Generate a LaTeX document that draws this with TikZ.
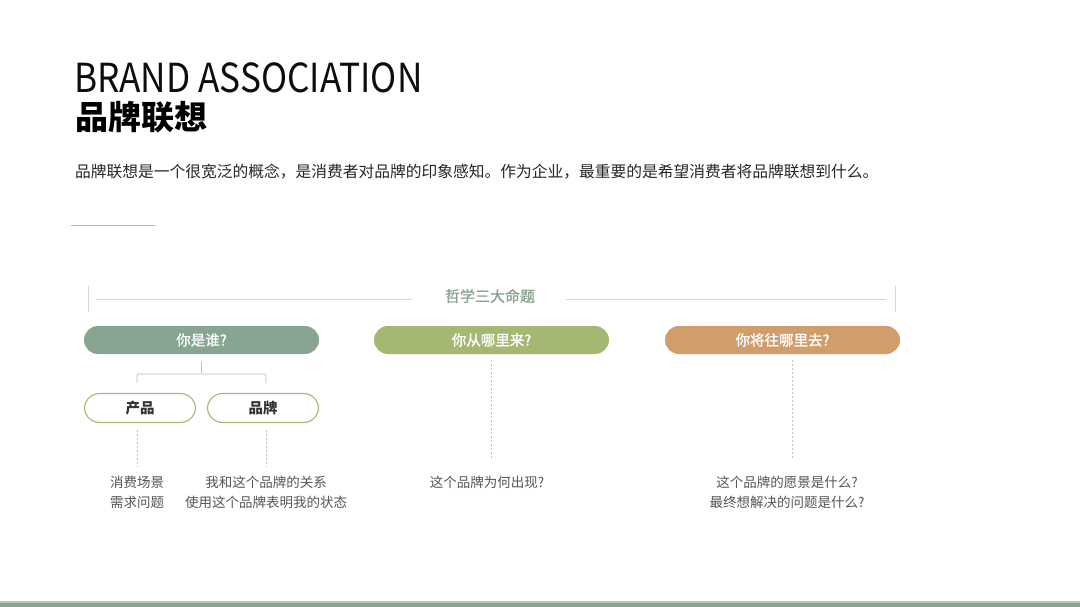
\documentclass[tikz,border=0pt]{standalone}
\usepackage{fontspec}
\setmainfont{Noto Sans CJK SC}
\newfontfamily\medfont[FakeBold=1.2]{Noto Sans CJK SC}
\definecolor{cA}{HTML}{87A591}
\definecolor{cB}{HTML}{A5B872}
\definecolor{cC}{HTML}{D09E6B}
\definecolor{hdr}{HTML}{8AA393}
\definecolor{txt}{HTML}{555555}
\definecolor{rule}{HTML}{D5D5D5}
\tikzset{
  pill/.style={rectangle, rounded corners=14pt, minimum width=235pt, minimum height=28pt, inner sep=0pt, text=white, font=\fontsize{14.5}{14.5}\medfont},
  subpill/.style={rectangle, rounded corners=15pt, draw=cB, line width=1.1pt, fill=white, minimum width=111pt, minimum height=29pt, inner sep=0pt, text=black!80, font=\fontsize{14.5}{14.5}\selectfont\bfseries},
  desc/.style={inner sep=0pt, align=center, text=txt, font=\fontsize{13.5}{20}\selectfont},
  dashline/.style={draw=black!25, dashed, dash pattern=on 2pt off 2pt, line width=0.6pt},
  brace/.style={draw=black!25, line width=0.7pt, rounded corners=2pt},
  rulel/.style={draw=rule, line width=0.8pt}
}
\begin{document}
\begin{tikzpicture}[x=1pt,y=-1pt]
\useasboundingbox (0,0) rectangle (1080,607);
\fill[white] (0,0) rectangle (1080,607);
% titles
\node[anchor=base west, inner sep=0pt, text=black!95, font=\fontsize{40}{40}\selectfont] (title) at (74,93) {\scalebox{0.88}[1]{BRAND ASSOCIATION}};
\node[anchor=west, inner sep=0pt, text=black, font=\fontsize{33}{33}\selectfont\bfseries] (cn) at (75,117) {品牌联想};
\node[anchor=west, inner sep=0pt, text=black!85, font=\fontsize{15.75}{15.75}\selectfont] (para) at (75,172) {品牌联想是一个很宽泛的概念，是消费者对品牌的印象感知。作为企业，最重要的是希望消费者将品牌联想到什么。};
\coordinate (sl) at (71,225);
\coordinate (sr) at (155,225);
\draw[draw=black!30, line width=0.7pt] (sl) -- (sr);
% header
\node[inner sep=0pt, text=hdr, font=\fontsize{15}{15}\medfont] (hdr) at (490,296) {哲学三大命题};
\coordinate (tl) at (88,286);
\coordinate (tr) at (895,286);
\draw[rulel] (tl) -- ++(0,26);
\draw[rulel] (tr) -- ++(0,26);
\draw[rulel] ([xshift=8pt]tl |- 0,299) -- ([xshift=-33pt]hdr.west |- 0,299);
\draw[rulel] ([xshift=31pt]hdr.east |- 0,299) -- ([xshift=-9pt]tr |- 0,299);
% pills
\node[pill, fill=cA] (p1) at (201.5,340) {你是谁?};
\node[pill, fill=cB] (p2) at (491.5,340) {你从哪里来?};
\node[pill, fill=cC] (p3) at (782.5,340) {你将往哪里去?};
% sub pills
\node[subpill] (s1) at (140,408) {产品};
\node[subpill] (s2) at (263,408) {品牌};
% brace
\coordinate (bt) at ([yshift=-8pt]p1.south);
\coordinate (bl) at ([xshift=-3pt, yshift=10pt]s1.north);
\coordinate (br) at ([xshift=3pt, yshift=10pt]s2.north);
\draw[brace] (bt) -- ([yshift=-19pt]p1.south);
\draw[brace] (bl) -- (bl |- 0,374) -- (br |- 0,374) -- (br);
% descriptions
\node[desc] (d1) at (137,492) {消费场景\\需求问题};
\node[desc] (d2) at (266,492) {我和这个品牌的关系\\使用这个品牌表明我的状态};
\node[desc] (d3) at (487,482) {这个品牌为何出现?};
\node[desc] (d4) at (787,492) {这个品牌的愿景是什么?\\最终想解决的问题是什么?};
% dashed connectors
\draw[dashline] ([xshift=-3pt, yshift=-7pt]s1.south) -- ([xshift=-3pt]s1.south |- 0,467);
\draw[dashline] ([xshift=3pt, yshift=-7pt]s2.south) -- ([xshift=3pt]s2.south |- 0,467);
\draw[dashline] ([yshift=-6pt]p2.south) -- (p2.south |- 0,460);
\draw[dashline] ([xshift=10pt, yshift=-6pt]p3.south) -- ([xshift=10pt]p3.south |- 0,460);
% bottom bar
\fill[cA!60] (0,601) rectangle (1080,602.5);
\fill[cA] (0,602.5) rectangle (1080,607);
\end{tikzpicture}
\end{document}
